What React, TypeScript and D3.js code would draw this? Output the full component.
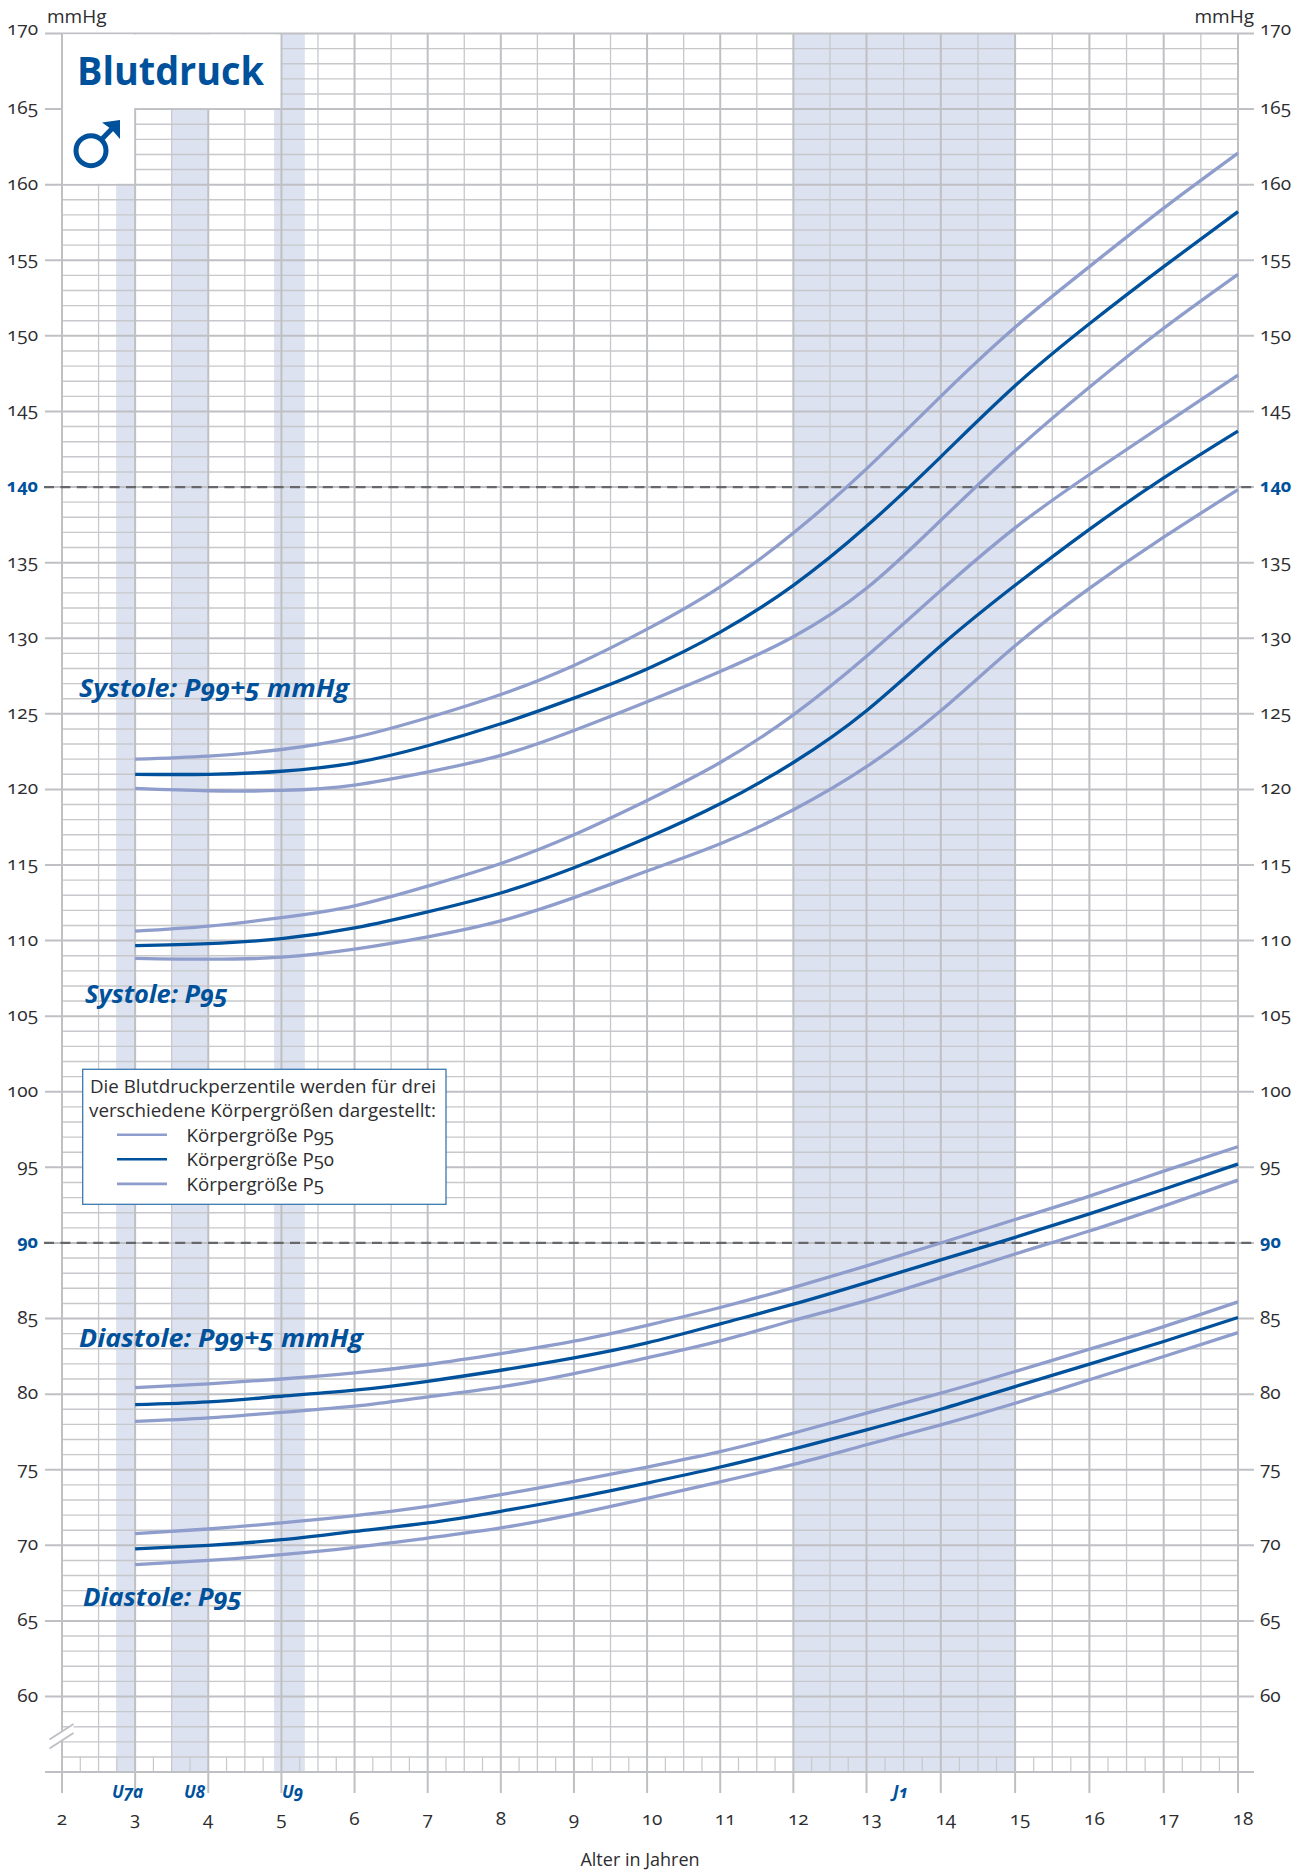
import React from "react";
import * as d3 from "d3";

const WIDTH = 1304;
const HEIGHT = 1870;

const years = [3, 4, 5, 6, 7, 8, 9, 10, 11, 12, 13, 14, 15, 16, 17, 18];
const yearTicks = d3.range(2, 19);
const yTicks = d3.range(60, 171, 5);
const hlines = [140, 90];

const sys99P95 = [122.0, 122.2, 122.64, 123.44, 124.74, 126.28, 128.2, 130.6, 133.4, 136.96, 141.2, 146.0, 150.57, 154.58, 158.45, 162.09];
const sys99P50 = [121.0, 121.0, 121.2, 121.76, 122.89, 124.34, 126.04, 127.97, 130.4, 133.5, 137.4, 142.0, 146.7, 150.8, 154.58, 158.22];
const sys99P5 = [120.07, 119.91, 119.93, 120.29, 121.15, 122.25, 123.9, 125.8, 127.8, 130.1, 133.3, 137.8, 142.4, 146.6, 150.5, 154.07];
const sys95P95 = [110.62, 110.95, 111.52, 112.3, 113.6, 115.1, 117.0, 119.27, 121.78, 124.93, 128.8, 133.15, 137.3, 140.83, 144.13, 147.4];
const sys95P50 = [109.67, 109.8, 110.13, 110.84, 111.9, 113.15, 114.82, 116.8, 119.05, 121.78, 125.2, 129.5, 133.5, 137.2, 140.6, 143.7];
const sys95P5 = [108.83, 108.77, 108.9, 109.43, 110.24, 111.3, 112.84, 114.6, 116.4, 118.65, 121.5, 125.2, 129.5, 133.3, 136.68, 139.83];
const dia99P95 = [80.43, 80.68, 81.0, 81.4, 81.96, 82.68, 83.5, 84.55, 85.73, 87.05, 88.48, 90.0, 91.55, 93.1, 94.75, 96.37];
const dia99P50 = [79.31, 79.49, 79.86, 80.26, 80.85, 81.58, 82.4, 83.39, 84.65, 85.95, 87.38, 88.88, 90.37, 91.92, 93.55, 95.22];
const dia99P5 = [78.2, 78.43, 78.8, 79.2, 79.82, 80.48, 81.36, 82.4, 83.52, 84.87, 86.19, 87.71, 89.27, 90.79, 92.44, 94.16];
const dia95P95 = [70.77, 71.08, 71.48, 71.96, 72.58, 73.35, 74.23, 75.18, 76.2, 77.42, 78.75, 80.07, 81.5, 82.97, 84.47, 86.1];
const dia95P50 = [69.76, 70.0, 70.37, 70.92, 71.48, 72.25, 73.13, 74.12, 75.18, 76.37, 77.64, 79.0, 80.5, 81.98, 83.48, 85.07];
const dia95P5 = [68.72, 69.0, 69.38, 69.87, 70.48, 71.15, 72.05, 73.1, 74.2, 75.35, 76.65, 77.97, 79.4, 80.95, 82.49, 84.07];

const lightSeries = [sys99P95, sys99P5, sys95P95, sys95P5, dia99P95, dia99P5, dia95P95, dia95P5];
const darkSeries = [sys99P50, sys95P50, dia99P50, dia95P50];

const bands: [number, number][] = [[2.74, 3], [3.5, 4], [4.9, 5.32], [12, 15]];
const uLabels: [string, number][] = [["U7a", 112], ["U8", 184], ["U9", 282], ["J1", 893]];
const legendRows = ["Körpergröße P95", "Körpergröße P50", "Körpergröße P5"];

const x = d3.scaleLinear().domain([2, 13, 18]).range([62, 866.5, 1238]);
const y = d3.scaleLinear().domain([60, 170]).range([1696.5, 33.5]);

const LIGHT = "#8e9dcb";
const DARK = "#00519b";
const BAND = "#dde2f0";
const MAJOR = "#bfc0c4";
const MINOR = "#c7c8cb";
const TEXT = "#2d2d30";
const FONT = "'Open Sans', sans-serif";
const onum = { fontFeatureSettings: "'onum' 1, 'lnum' 0", fontVariantNumeric: "oldstyle-nums" } as React.CSSProperties;

const line = d3
  .line<number>()
  .x((_, i) => x(years[i]))
  .y((d) => y(d))
  .curve(d3.curveNatural);

const minorY = d3.range(56, 170).filter((v) => v % 5 !== 0);
const majorY = d3.range(55, 171, 5);
const halfYears = d3.range(2.5, 18, 1);
const quarters = d3.range(2.25, 18, 0.5);

export default function App() {
  const left = x(2);
  const right = x(18);
  const axisY = y(55);
  const rowTop = y(56);

  return (
    <svg
      width={WIDTH}
      height={HEIGHT}
      viewBox={`0 0 ${WIDTH} ${HEIGHT}`}
      style={{ position: "absolute", left: 0, top: 0, display: "block", background: "#fff" }}
      fontFamily={FONT}
    >
      {bands.map(([a, b], i) => (
        <rect key={i} x={x(a)} y={y(170)} width={x(b) - x(a)} height={axisY - y(170)} fill={BAND} />
      ))}

      {minorY.map((v) => (
        <line key={v} x1={left} x2={right} y1={y(v)} y2={y(v)} stroke={MINOR} strokeWidth={1.4} />
      ))}
      {halfYears.map((v) => (
        <line key={v} x1={x(v)} x2={x(v)} y1={y(170)} y2={axisY} stroke={MINOR} strokeWidth={1.3} />
      ))}
      {quarters.map((v) => (
        <line key={v} x1={x(v)} x2={x(v)} y1={rowTop} y2={axisY} stroke={MINOR} strokeWidth={1.2} />
      ))}
      {majorY.map((v) => (
        <line key={v} x1={45} x2={1254} y1={y(v)} y2={y(v)} stroke={MAJOR} strokeWidth={2} />
      ))}
      {yearTicks.map((v) => (
        <line key={v} x1={x(v)} x2={x(v)} y1={y(170)} y2={1793} stroke={MAJOR} strokeWidth={2} />
      ))}

      {/* title panel */}
      <rect x={left + 1} y={y(170) + 1} width={x(5) - left - 2} height={y(165) - y(170) - 2} fill="#fff" />
      <rect x={left + 1} y={y(170) + 1} width={x(3) - left - 2} height={y(160) - y(170) - 2} fill="#fff" />
      <text x={77} y={85} fontSize={40} fontWeight={700} fill={DARK} textLength={187} lengthAdjust="spacingAndGlyphs">
        Blutdruck
      </text>
      <g fill="none" stroke={DARK}>
        <circle cx={91} cy={150.7} r={15} strokeWidth={5} />
        <path d="M101.5 139.5 L116 124.5" strokeWidth={5} />
      </g>
      <path d="M120 120 L120 139 L113 131 L109 127.5 L102 122.5 Z" fill={DARK} />

      {/* break mark */}
      <path d="M49 1739.5 L73.5 1724 L73.5 1732.5 L49 1748 Z" fill="#fff" />
      <path d="M49.5 1739.5 L73.5 1724 M49.5 1748.5 L73.5 1733" stroke={MAJOR} strokeWidth={2} fill="none" />

      {hlines.map((v) => (
        <line key={v} x1={44} x2={1254} y1={y(v)} y2={y(v)} stroke="#66676a" strokeWidth={2.3} strokeDasharray="10 6.4" />
      ))}

      {lightSeries.map((s, i) => (
        <path key={i} d={line(s) ?? ""} fill="none" stroke={LIGHT} strokeWidth={3.3} />
      ))}
      {darkSeries.map((s, i) => (
        <path key={i} d={line(s) ?? ""} fill="none" stroke={DARK} strokeWidth={3.3} />
      ))}

      {/* y tick labels */}
      {yTicks.map((v) => {
        const hi = hlines.includes(v);
        const ty = y(v) + (v === 170 ? 1.5 : 5);
        const props = { fontSize: hi ? 18 : 19, fill: hi ? DARK : TEXT, fontWeight: hi ? 700 : 400, style: onum };
        return (
          <g key={v}>
            <text x={38} y={ty} textAnchor="end" {...props}>{v}</text>
            <text x={1260} y={ty} {...props}>{v}</text>
          </g>
        );
      })}
      <text x={47} y={23} fontSize={19} fill={TEXT}>mmHg</text>
      <text x={1254} y={23} fontSize={19} fill={TEXT} textAnchor="end">mmHg</text>

      {/* x tick labels */}
      {yearTicks.map((v) => (
        <text
          key={v}
          x={v < 10 ? x(v) : x(v) + 5}
          y={1825}
          fontSize={19}
          fill={TEXT}
          textAnchor="middle"
          style={onum}
        >
          {v}
        </text>
      ))}
      <text x={640} y={1866} fontSize={18} fill={TEXT} textAnchor="middle">Alter in Jahren</text>

      {uLabels.map(([t, px]) => (
        <text key={t} x={px} y={1798} fontSize={17} fontWeight={700} fontStyle="italic" fill={DARK} style={onum}>
          {t}
        </text>
      ))}

      {/* curve captions */}
      <g fontSize={25} fontWeight={700} fontStyle="italic" fill={DARK} style={onum}>
        <text x={79} y={697} textLength={270} lengthAdjust="spacingAndGlyphs">Systole: P99+5 mmHg</text>
        <text x={85} y={1003} textLength={143} lengthAdjust="spacingAndGlyphs">Systole: P95</text>
        <text x={79} y={1347} textLength={284} lengthAdjust="spacingAndGlyphs">Diastole: P99+5 mmHg</text>
        <text x={83} y={1606} textLength={159} lengthAdjust="spacingAndGlyphs">Diastole: P95</text>
      </g>

      {/* legend */}
      <rect x={82.7} y={1069.3} width={363.3} height={135} fill="#fff" stroke="#3b78b0" strokeWidth={1.3} />
      <text x={90} y={1092.5} fontSize={18} fill={TEXT} textLength={346} lengthAdjust="spacingAndGlyphs">
        Die Blutdruckperzentile werden für drei
      </text>
      <text x={89} y={1116.5} fontSize={18} fill={TEXT} textLength={347} lengthAdjust="spacingAndGlyphs">
        verschiedene Körpergrößen dargestellt:
      </text>
      {legendRows.map((t, i) => (
        <g key={t}>
          <line x1={117} x2={167} y1={1134.7 + i * 24.6} y2={1134.7 + i * 24.6} stroke={i === 1 ? DARK : LIGHT} strokeWidth={2.6} />
          <text x={186.5} y={1141.5 + i * 24.7} fontSize={18.7} fill={TEXT} style={onum}>{t}</text>
        </g>
      ))}
    </svg>
  );
}
